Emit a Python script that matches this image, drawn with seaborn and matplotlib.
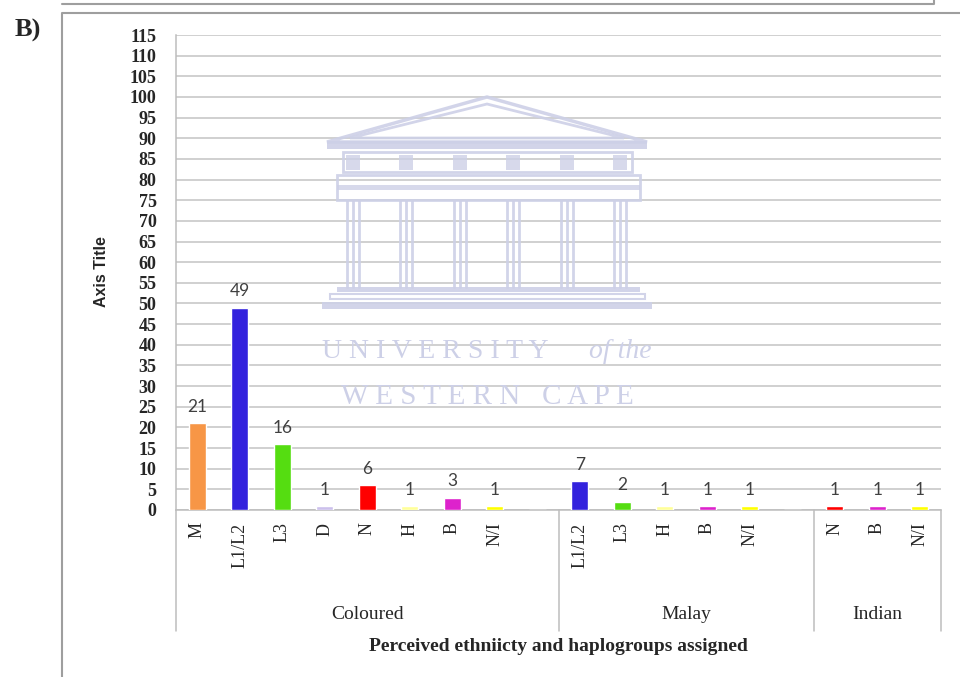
import matplotlib
matplotlib.use("Agg")
import matplotlib.pyplot as plt
import matplotlib.transforms as mtransforms
from matplotlib.patches import Polygon
from matplotlib.lines import Line2D
import seaborn as sns
import pandas as pd

# data
groups = ["Coloured", "Malay", "Indian"]
coloured_hg = ["M", "L1/L2", "L3", "D", "N", "H", "B", "N/I"]
coloured_n = [21, 49, 16, 1, 6, 1, 3, 1]
malay_hg = ["L1/L2", "L3", "H", "B", "N/I"]
malay_n = [7, 2, 1, 1, 1]
indian_hg = ["N", "B", "N/I"]
indian_n = [1, 1, 1]

hg_colors = {
    "M": "#F79646",
    "L1/L2": "#3322DD",
    "L3": "#55DD11",
    "D": "#CCC0EC",
    "N": "#FF0000",
    "H": "#FFFF99",
    "B": "#DD22CC",
    "N/I": "#FFFF00",
    "": "#FFFFFF",
}

# Excel-style layout: each group but the last is followed by one empty slot
rows = []
group_spans = []
blocks = [(groups[0], coloured_hg, coloured_n),
          (groups[1], malay_hg, malay_n),
          (groups[2], indian_hg, indian_n)]
for gi, (g, hgs, ns) in enumerate(blocks):
    start = len(rows)
    for h, n in zip(hgs, ns):
        rows.append({"slot": f"{g}|{h}", "hg": h, "count": n, "group": g})
    if gi < len(blocks) - 1:
        rows.append({"slot": f"{g}|blank", "hg": "", "count": 0, "group": g})
    group_spans.append((g, start, len(rows)))
df = pd.DataFrame(rows)
palette = {s: hg_colors[h] for s, h in zip(df["slot"], df["hg"])}

sns.set_style("white")
plt.rcParams["font.family"] = ["Liberation Serif", "DejaVu Serif"]

fig = plt.figure(figsize=(9.6, 6.77), dpi=100)
W, H = 960, 677


def P(x, y):
    return (x / W, 1 - y / H)


ax = fig.add_axes([176 / W, 1 - 510 / H, 765 / W, 475 / H])

sns.barplot(data=df, x="slot", y="count", hue="slot", palette=palette,
            order=list(df["slot"]), width=0.39, saturation=1, legend=False,
            ax=ax, zorder=3)

ax.set_xlim(-0.5, len(df) - 0.5)
ax.set_ylim(0, 115)
ax.set_yticks(range(0, 116, 5))
ax.yaxis.grid(True, color="#C4C4C4", lw=1.1)
ax.set_axisbelow(True)
for s in ["top", "right"]:
    ax.spines[s].set_visible(False)
for s in ["left", "bottom"]:
    ax.spines[s].set_color("#BDBDBD")
    ax.spines[s].set_linewidth(1.1)

ax.tick_params(axis="y", direction="out", length=7, width=1.1, color="#BDBDBD",
               pad=7, labelsize=13)
for lab in ax.get_yticklabels():
    lab.set_fontweight("bold")

ax.set_xticks(range(len(df)))
ax.set_xticklabels(df["hg"], rotation=90, fontsize=13, va="top", ha="center")
ax.tick_params(axis="x", length=0, pad=9)
ax.set_xlabel("")
ax.set_ylabel("")

# value labels above bars
for i, (n, h) in enumerate(zip(df["count"], df["hg"])):
    if h:
        ax.annotate(str(n), (i, n), xytext=(0, 6), textcoords="offset points",
                    ha="center", va="bottom", fontsize=12.5, color="#404040",
                    family=["Lato", "DejaVu Sans"])

# group labels and separators beneath the axis
trans = mtransforms.blended_transform_factory(ax.transData, ax.transAxes)
sep_bottom = -(631 - 510) / 475
edges = [-0.5] + [end - 0.5 for _, _, end in group_spans]
for x in edges:
    ax.add_line(Line2D([x, x], [0, sep_bottom], transform=trans, color="#BDBDBD",
                       lw=1.1, clip_on=False))
for g, start, end in group_spans:
    ax.text((start + end - 1) / 2, -(619 - 510) / 475, g, transform=trans,
            ha="center", va="baseline", fontsize=14, color="#262626")

ax.text(0.5, -(651 - 510) / 475, "Perceived ethniicty and haplogroups assigned",
        transform=ax.transAxes, ha="center", va="baseline", fontsize=14,
        fontweight="bold")

fig.text(*P(101, 272), "Axis Title", rotation=90, ha="center", va="center",
         fontsize=11.5, fontweight="bold",
         family=["Liberation Sans Narrow", "Liberation Sans"])

# page decoration: panel label and frames
fig.text(*P(28, 30), "B)", ha="center", va="center", fontsize=19,
         fontweight="bold")
frame_c = "#9E9E9E"
for xs, ys in [([62, 62, 960], [677, 13, 13]),
               ([62, 934, 934], [4, 4, 0])]:
    pts = [P(x, y) for x, y in zip(xs, ys)]
    fig.add_artist(Line2D([p[0] for p in pts], [p[1] for p in pts],
                          transform=fig.transFigure, color=frame_c, lw=1.5))

# faint university watermark
wm = "#CDD0E7"


def poly(pts, **kw):
    fig.add_artist(Polygon([P(x, y) for x, y in pts], closed=True,
                           transform=fig.transFigure, **kw))


def rect(x0, y0, x1, y1, **kw):
    poly([(x0, y0), (x1, y0), (x1, y1), (x0, y1)], **kw)


poly([(327, 142), (487, 97), (647, 142)], fill=False, ec=wm, lw=2.5, alpha=0.9)
poly([(350, 138), (487, 104), (624, 138)], fill=False, ec=wm, lw=2, alpha=0.9)
rect(327, 141, 647, 149, fc=wm, ec="none", alpha=0.9)
rect(343, 152, 632, 172, fill=False, ec=wm, lw=2, alpha=0.9)
for k in range(6):
    cx = 353 + k * 53.4
    rect(cx - 7, 155, cx + 7, 170, fc=wm, ec="none", alpha=0.8)
rect(337, 175, 640, 200, fill=False, ec=wm, lw=2, alpha=0.9)
rect(337, 185, 640, 190, fc=wm, ec="none", alpha=0.8)
for k in range(6):
    cx = 353 + k * 53.4
    for dx in (-6, 0, 6):
        fig.add_artist(Line2D([P(cx + dx, 0)[0]] * 2, [P(0, 200)[1], P(0, 287)[1]],
                              transform=fig.transFigure, color=wm, lw=2,
                              alpha=0.9))
rect(337, 287, 640, 292, fc=wm, ec="none", alpha=0.9)
rect(330, 294, 645, 299, fill=False, ec=wm, lw=1.5, alpha=0.9)
rect(322, 302, 652, 309, fc=wm, ec="none", alpha=0.9)

fig.text(*P(322, 351), "U N I V E R S I T Y", ha="left", va="center",
         fontsize=20, color=wm)
fig.text(*P(652, 351), "of the", ha="right", va="center", fontsize=20,
         color=wm, style="italic")
fig.text(*P(487, 397), "W E S T E R N   C A P E", ha="center", va="center",
         fontsize=21, color=wm)

fig.savefig("out.png", dpi=100)
